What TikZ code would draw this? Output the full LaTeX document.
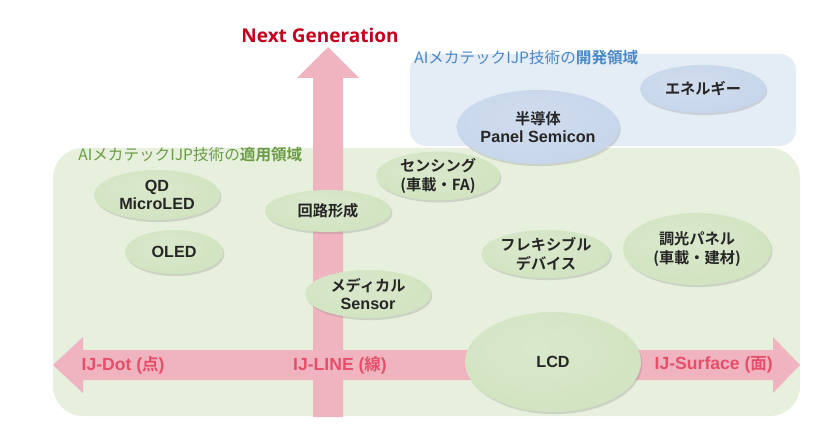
\documentclass[tikz,border=0pt]{standalone}
\usepackage{fontspec}
\setmainfont{Liberation Sans}
\newfontfamily\cjk{Noto Sans CJK JP}[Scale=0.94, BoldFont={Noto Sans CJK JP Bold}]
\newfontfamily\headfont{Open Sans}
\usetikzlibrary{shapes.geometric,shadows}
\definecolor{areagreen}{HTML}{E6F0DD}
\definecolor{areablue}{HTML}{E4ECF6}
\definecolor{ellgreen}{HTML}{D1E3C0}
\definecolor{ellblue}{HTML}{C6D5EA}
\definecolor{arrowpink}{HTML}{EFB4C0}
\definecolor{labpink}{HTML}{E64F6A}
\definecolor{labred}{HTML}{C4001C}
\definecolor{labgreen}{HTML}{6C9C47}
\definecolor{labblue}{HTML}{4A88C6}
\definecolor{txtdark}{HTML}{262626}
\pgfdeclareradialshading{greenglow}{\pgfpoint{-5bp}{7bp}}{%
  color(0bp)=(ellgreen!82!white); color(34bp)=(ellgreen); color(48bp)=(ellgreen!94!black);
  color(60bp)=(ellgreen!82!black); color(80bp)=(ellgreen!82!black)}
\pgfdeclareradialshading{blueglow}{\pgfpoint{-5bp}{7bp}}{%
  color(0bp)=(ellblue!82!white); color(34bp)=(ellblue); color(48bp)=(ellblue!94!black);
  color(60bp)=(ellblue!82!black); color(80bp)=(ellblue!82!black)}
\tikzset{
  fieldell/.style={ellipse, inner sep=0pt, align=center, text=txtdark,
    font=\fontsize{11.5}{13}\selectfont\bfseries,
    drop shadow={opacity=0.25, shadow xshift=1pt, shadow yshift=-1.5pt}},
  axislab/.style={text=labpink, font=\fontsize{12.5}{14}\selectfont\bfseries, inner sep=1pt},
}

\begin{document}
\begin{tikzpicture}[
  x=0.025cm, y=-0.025cm,
  appl/.style={fieldell, shading=greenglow},
  dev/.style={fieldell, shading=blueglow},
]
  \useasboundingbox (0,0) rectangle (840,445);

  % Areas
  \fill[areablue, rounded corners=0.4cm] (410,54) rectangle (796,146);
  \fill[areagreen, rounded corners=0.75cm] (53,148) rectangle (800,416);
  \node[anchor=west, text=labblue, font=\fontsize{11.8}{14}\selectfont\cjk, inner sep=0pt]
    (devlabel) at (414,58) {AIメカテックIJP技術の\textbf{開発領域}};
  \node[anchor=west, text=labgreen, font=\fontsize{11.8}{14}\selectfont\cjk, inner sep=0pt]
    (appllabel) at (78,155) {AIメカテックIJP技術の\textbf{適用領域}};

  % Axes
  \fill[arrowpink] (313,417) -- (313,78) -- (297,78) -- (328,47) -- (359,78)
    -- (343,78) -- (343,417) -- cycle;
  \fill[arrowpink] (83,350) -- (773,350) -- (773,337) -- (800,365) -- (773,393)
    -- (773,380) -- (83,380) -- (83,393) -- (53,365) -- (83,337) -- cycle;
  \node[text=labred, font=\fontsize{13.5}{15}\selectfont\headfont\bfseries] (nextgen) at (320,35) {Next Generation};

  % Development area
  \node[dev, minimum width=3.75cm, minimum height=1.85cm] (semicon) at (538,127) {{\cjk 半導体}\\Panel Semicon};
  \node[dev, minimum width=3.15cm, minimum height=1.2cm] (energy) at (703,89) {\cjk エネルギー};

  % Application area
  \node[appl, minimum width=3.15cm, minimum height=1.25cm] (qd) at (157,195) {QD\\MicroLED};
  \node[appl, minimum width=2.45cm, minimum height=1.1cm] (oled) at (174,252) {OLED};
  \node[appl, minimum width=3.15cm, minimum height=1.05cm] (kairo) at (328,211) {\cjk 回路形成};
  \node[appl, minimum width=3.15cm, minimum height=1.2cm] (medical) at (368,294) {{\cjk メディカル}\\Sensor};
  \node[appl, minimum width=3.1cm, minimum height=1.1cm] (sensing) at (438,176) {\cjk センシング\\\cjk (車載・FA)};
  \node[appl, minimum width=3.15cm, minimum height=1.2cm] (flex) at (546,254) {\cjk フレキシブル\\\cjk デバイス};
  \node[appl, minimum width=3.7cm, minimum height=1.8cm] (choko) at (697,249) {\cjk 調光パネル\\\cjk (車載・建材)};
  \node[appl, minimum width=4.4cm, minimum height=2.5cm] (lcd) at (553,362) {LCD};

  % Axis labels
  \node[axislab, anchor=west] (dot) at (80,365) {IJ-Dot ({\cjk 点})};
  \node[axislab] (line) at (340,365) {IJ-LINE ({\cjk 線})};
  \node[axislab, anchor=west] (surface) at (653,365) {IJ-Surface ({\cjk 面})};
\end{tikzpicture}
\end{document}
